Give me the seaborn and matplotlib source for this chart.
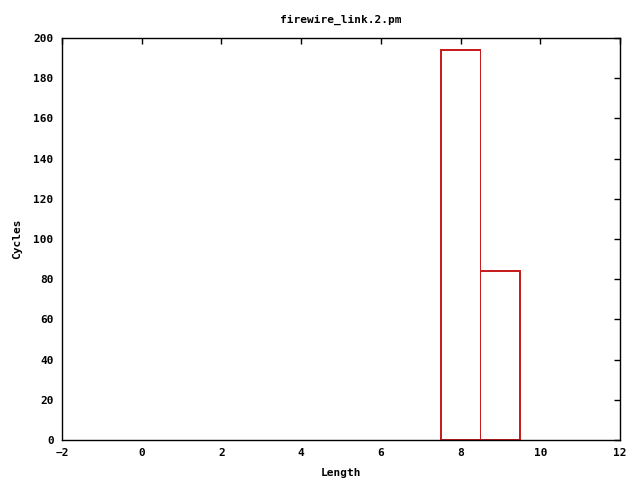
import matplotlib
matplotlib.use("Agg")
import matplotlib.pyplot as plt
import seaborn as sns
import pandas as pd

lengths = [8, 9]
cycles = [194, 84]
title = "firewire_link.2.pm"
xlabel = "Length"
ylabel = "Cycles"
xticks = [-2, 0, 2, 4, 6, 8, 10, 12]
yticks = [0, 20, 40, 60, 80, 100, 120, 140, 160, 180, 200]

sns.set_style("white")
plt.rcParams['font.family'] = ['DejaVu Sans Mono']
plt.rcParams['font.weight'] = 'bold'
plt.rcParams['font.size'] = 8
plt.rcParams['text.color'] = 'black'
plt.rcParams['axes.labelcolor'] = 'black'
plt.rcParams['xtick.color'] = 'black'
plt.rcParams['ytick.color'] = 'black'

df = pd.DataFrame({"Length": lengths, "Cycles": cycles})

fig = plt.figure(figsize=(6.4, 4.8), dpi=100)
ax = fig.add_axes([62/640, 40/480, (620-62)/640, (440-38)/480])
sns.histplot(data=df, x="Length", weights="Cycles", discrete=True, fill=False,
             element="bars", color="#c81e1e", linewidth=0.72, ax=ax)
for p in ax.patches:
    p.set_antialiased(False)
    p.set_snap(False)

ax.set_xlim(-2, 12)
ax.set_ylim(0, 200)
ax.set_xticks(xticks)
ax.set_yticks(yticks)
ax.set_xlabel(xlabel, fontweight='bold', fontsize=8, labelpad=7)
ax.set_ylabel(ylabel, fontweight='bold', fontsize=8, labelpad=8)
ax.set_title(title, fontweight='bold', fontsize=8, pad=11)
ax.tick_params(direction='in', top=True, right=True, length=4, width=1, color='black', labelsize=8, pad=6)
for s in ax.spines.values():
    s.set_color('black')
    s.set_linewidth(1)
for lab in ax.get_xticklabels() + ax.get_yticklabels():
    lab.set_fontweight('bold')
ax.grid(False)

fig.savefig("out.png", dpi=100)
